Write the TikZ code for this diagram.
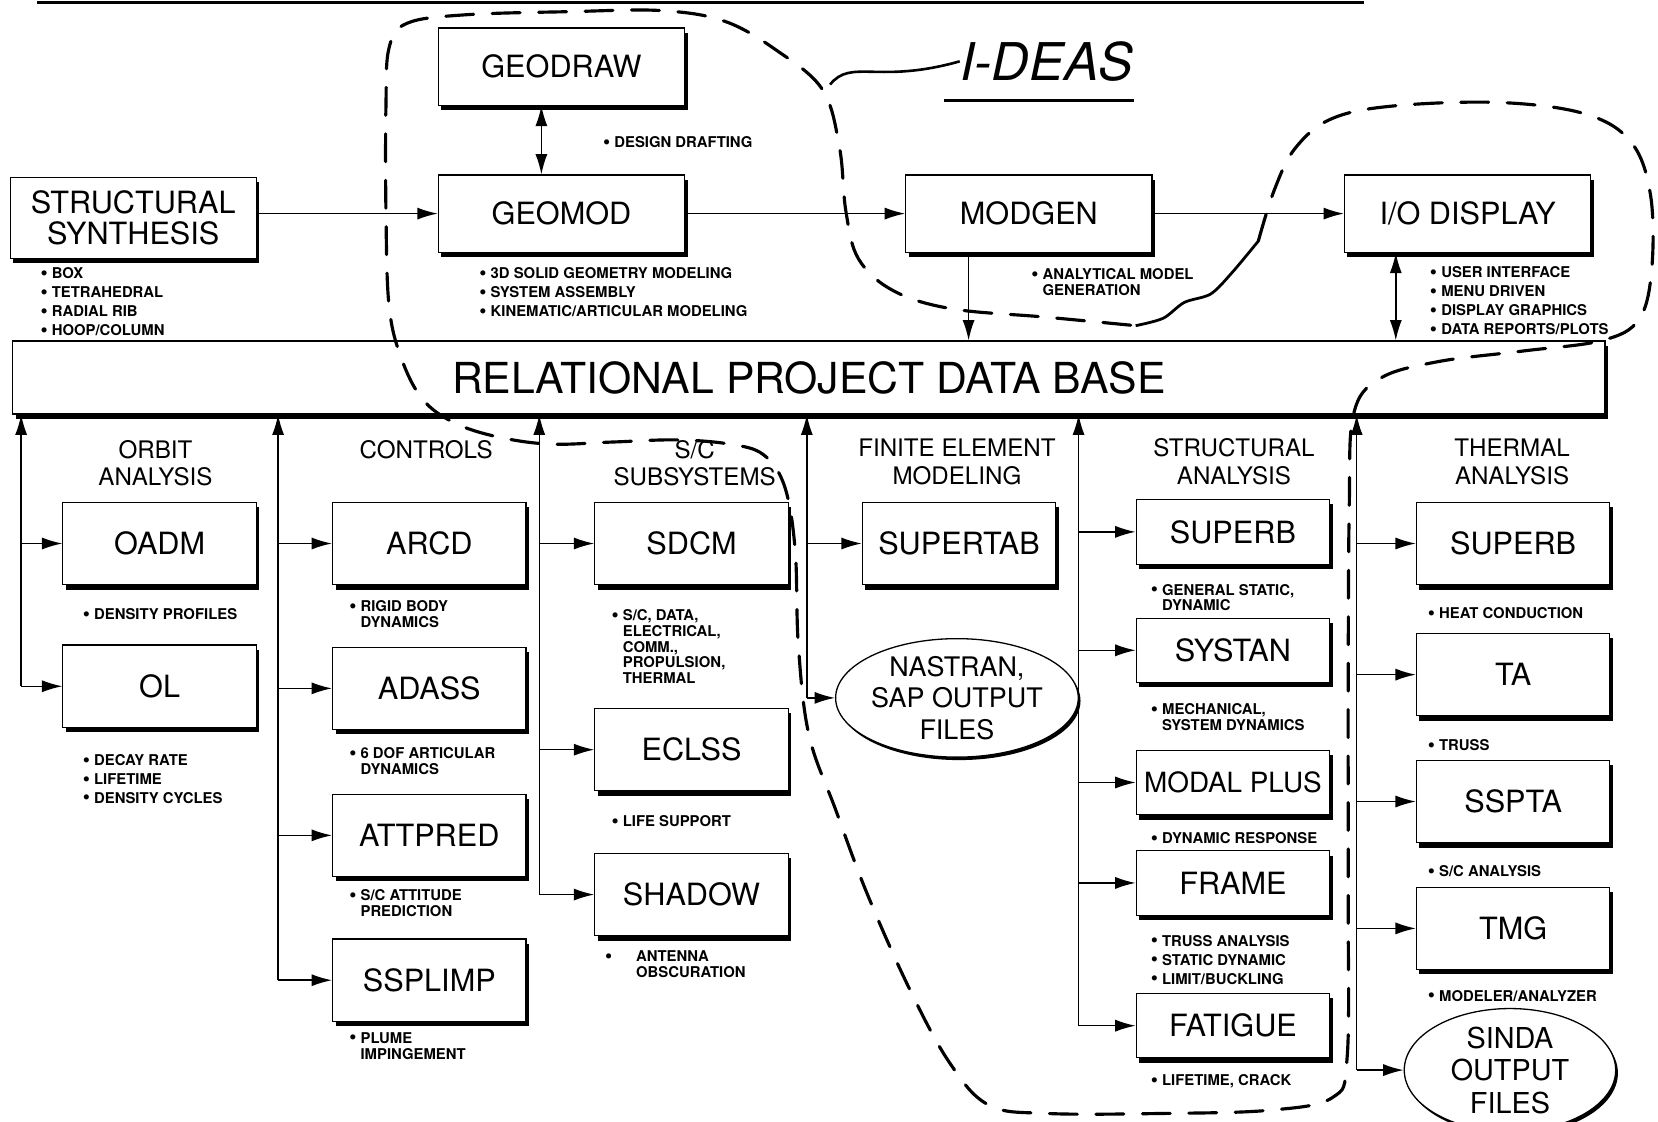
\documentclass[tikz,border=0pt]{standalone}
\usepackage{fontspec}
\setmainfont{TeX Gyre Heros}
\usetikzlibrary{positioning}
\usetikzlibrary{arrows.meta}
\usetikzlibrary{shapes.geometric}
\usetikzlibrary{shadows}
\newcommand{\dotmark}{\raisebox{-0.4pt}{\fontsize{11}{8}\selectfont\textbullet}}
\newcommand{\itm}{\dotmark\ }
\newcommand{\ind}{\phantom{\dotmark\ }}

\begin{document}
\begin{tikzpicture}[
    x=0.02cm, y=-0.02cm,
    box/.style={draw, fill=white, line width=0.6pt, minimum width=3.66cm, minimum height=1.56cm,
        inner sep=0pt, align=center, font=\fontsize{16.5}{17}\selectfont,
        drop shadow={shadow xshift=1.6pt, shadow yshift=-2.6pt, fill=black, opacity=1}},
    widebox/.style={box, minimum width=4.66cm, minimum height=1.46cm},
    flatbox/.style={box, minimum height=1.22cm},
    outfile/.style={ellipse, draw, fill=white, line width=0.7pt, inner sep=0pt,
        minimum width=3.9cm, minimum height=1.9cm, align=center, font=\fontsize{14.5}{17}\selectfont,
        drop shadow={shadow xshift=1.2pt, shadow yshift=-1.6pt, fill=black, opacity=1}},
    head/.style={align=center, font=\fontsize{13}{15}\selectfont},
    note/.style={anchor=north west, align=left, inner sep=0pt, font=\fontsize{8}{8.5}\selectfont\bfseries},
    notes/.style={note, font=\fontsize{8}{10.2}\selectfont\bfseries},
    link/.style={->, line width=0.8pt},
    boundary/.style={line width=1.7pt, dash pattern=on 15pt off 10pt, line cap=round},
    >={Latex[length=11pt,width=6.5pt]}
]
    \useasboundingbox (0,0) rectangle (1568,1061);
    \clip (0,0) rectangle (1568,1061);

    \draw[line width=1.5pt] (35,2) -- (1290,2);

    % top row
    \node[widebox] (geodraw) at (531,63) {GEODRAW};
    \node[widebox] (geomod) at (531,202) {GEOMOD};
    \node[widebox, minimum height=1.54cm] (synth) at (126,206) {STRUCTURAL\\SYNTHESIS};
    \node[widebox] (modgen) at (973,202) {MODGEN};
    \node[widebox] (iodisp) at (1388,202) {I/O DISPLAY};

    \node[note] (n-geodraw) at (570,129) {\itm DESIGN DRAFTING};
    \node[notes] (n-synth) at (38,253) {\itm BOX\\\itm TETRAHEDRAL\\\itm RADIAL RIB\\\itm HOOP/COLUMN};
    \node[notes] (n-geomod) at (453,253) {\itm 3D SOLID GEOMETRY MODELING\\\itm SYSTEM ASSEMBLY\\\itm KINEMATIC/ARTICULAR MODELING};
    \node[note] (n-modgen) at (975,254) {\itm ANALYTICAL MODEL\\\ind GENERATION};
    \node[notes] (n-iodisp) at (1352,252) {\itm USER INTERFACE\\\itm MENU DRIVEN\\\itm DISPLAY GRAPHICS\\\itm DATA REPORTS/PLOTS};

    % data base
    \node[box, minimum width=30.12cm, minimum height=1.38cm, font=\fontsize{23}{24}\selectfont] (db) at (765,357) {RELATIONAL PROJECT DATA BASE};

    \draw[link] (synth.east |- geomod) -- (geomod.west);
    \draw[<->, line width=0.8pt] ([xshift=-0.38cm]geodraw.south) -- ([xshift=-0.38cm]geomod.north);
    \draw[link] (geomod) -- (modgen);
    \draw[link] (modgen) -- (iodisp);
    \coordinate (m) at ([xshift=-1.14cm]modgen.south);
    \draw[link] (m) -- (m |- db.north);
    \coordinate (io) at ([xshift=-1.36cm]iodisp.south);
    \draw[<->, line width=0.8pt] (io) -- (io |- db.north);

    % column headings
    \node[head] (h-orbit) at (147,438) {ORBIT\\ANALYSIS};
    \node[head] (h-ctrl) at (403,425) {CONTROLS};
    \node[head] (h-sub) at (657,438) {S/C\\SUBSYSTEMS};
    \node[head] (h-fem) at (905,437) {FINITE ELEMENT\\MODELING};
    \node[head] (h-str) at (1167,437) {STRUCTURAL\\ANALYSIS};
    \node[head] (h-thm) at (1430,437) {THERMAL\\ANALYSIS};

    % orbit
    \node[box] (oadm) at (151,514) {OADM};
    \node[box] (ol) at (151,649) {OL};
    \node[note] (n-oadm) at (78,575) {\itm DENSITY PROFILES};
    \node[notes] (n-ol) at (78,713) {\itm DECAY RATE\\\itm LIFETIME\\\itm DENSITY CYCLES};

    % controls
    \node[box] (arcd) at (406,514) {ARCD};
    \node[box] (adass) at (406,651) {ADASS};
    \node[box] (attpred) at (406,790) {ATTPRED};
    \node[box] (ssplimp) at (406,927) {SSPLIMP};
    \node[note] (n-arcd) at (330,568) {\itm RIGID BODY\\\ind DYNAMICS};
    \node[note] (n-adass) at (330,707) {\itm 6 DOF ARTICULAR\\\ind DYNAMICS};
    \node[note] (n-attpred) at (330,841) {\itm S/C ATTITUDE\\\ind PREDICTION};
    \node[note] (n-ssplimp) at (330,976) {\itm PLUME\\\ind IMPINGEMENT};

    % subsystems
    \node[box] (sdcm) at (654,514) {SDCM};
    \node[box] (eclss) at (654,709) {ECLSS};
    \node[box] (shadowbox) at (654,846) {SHADOW};
    \node[note] (n-sdcm) at (578,576) {\itm S/C, DATA,\\\ind ELECTRICAL,\\\ind COMM.,\\\ind PROPULSION,\\\ind THERMAL};
    \node[note] (n-eclss) at (578,771) {\itm LIFE SUPPORT};
    \node[note] (n-shadow) at (572,899) {\dotmark\hspace{0.45cm}ANTENNA\\\phantom{\dotmark}\hspace{0.45cm}OBSCURATION};

    % finite element
    \node[box] (supertab) at (907,514) {SUPERTAB};
    \node[outfile] (nastran) at (905,660) {NASTRAN,\\SAP OUTPUT\\FILES};

    % structural
    \node[flatbox] (superb) at (1166,503) {SUPERB};
    \node[flatbox] (systan) at (1166,615) {SYSTAN};
    \node[flatbox, font=\fontsize{15}{16}\selectfont] (modal) at (1166,740) {MODAL PLUS};
    \node[flatbox] (frame) at (1166,835) {FRAME};
    \node[flatbox] (fatigue) at (1166,970) {FATIGUE};
    \node[note] (n-superb) at (1088,552) {\itm GENERAL STATIC,\\\ind DYNAMIC};
    \node[note] (n-systan) at (1088,665) {\itm MECHANICAL,\\\ind SYSTEM DYNAMICS};
    \node[note] (n-modal) at (1088,787) {\itm DYNAMIC RESPONSE};
    \node[notes] (n-frame) at (1088,884) {\itm TRUSS ANALYSIS\\\itm STATIC DYNAMIC\\\itm LIMIT/BUCKLING};
    \node[note] (n-fatigue) at (1088,1016) {\itm LIFETIME, CRACK};

    % thermal
    \node[box] (superbt) at (1431,514) {SUPERB};
    \node[box] (ta) at (1431,638) {TA};
    \node[box] (sspta) at (1431,758) {SSPTA};
    \node[box] (tmg) at (1431,878) {TMG};
    \node[outfile, minimum width=4cm, minimum height=2.1cm, font=\fontsize{15.5}{17.5}\selectfont] (sinda) at (1428,1012) {SINDA\\OUTPUT\\FILES};
    \node[note] (n-superbt) at (1350,574) {\itm HEAT CONDUCTION};
    \node[note] (n-ta) at (1350,699) {\itm TRUSS};
    \node[note] (n-sspta) at (1350,818) {\itm S/C ANALYSIS};
    \node[note] (n-tmg) at (1350,936) {\itm MODELER/ANALYZER};

    % column feeds
    \coordinate (c1) at (20,649);
    \coordinate (c2) at (263,927);
    \coordinate (c3) at (510,846);
    \coordinate (c4) at (763,660);
    \coordinate (c5) at (1020,970);
    \coordinate (c6) at (1283,1012);
    \draw[link] (c1) -- (c1 |- db.south);
    \draw[link] (c2) -- (c2 |- db.south);
    \draw[link] (c3) -- (c3 |- db.south);
    \draw[link] (c4) -- (c4 |- db.south);
    \draw[link] (c5) -- (c5 |- db.south);
    \draw[link] (c6) -- (c6 |- db.south);

    \draw[link] (c1 |- oadm) -- (oadm.west);
    \draw[link] (c1 |- ol) -- (ol.west);
    \draw[link] (c2 |- arcd) -- (arcd.west);
    \draw[link] (c2 |- adass) -- (adass.west);
    \draw[link] (c2 |- attpred) -- (attpred.west);
    \draw[link] (c2 |- ssplimp) -- (ssplimp.west);
    \draw[link] (c3 |- sdcm) -- (sdcm.west);
    \draw[link] (c3 |- eclss) -- (eclss.west);
    \draw[link] (c3 |- shadowbox) -- (shadowbox.west);
    \draw[link] (c4 |- supertab) -- (supertab.west);
    \draw[link] (c4 |- nastran) -- (nastran.west);
    \draw[link] (c5 |- superb) -- (superb.west);
    \draw[link] (c5 |- systan) -- (systan.west);
    \draw[link] (c5 |- modal) -- (modal.west);
    \draw[link] (c5 |- frame) -- (frame.west);
    \draw[link] (c5 |- fatigue) -- (fatigue.west);
    \draw[link] (c6 |- superbt) -- (superbt.west);
    \draw[link] (c6 |- ta) -- (ta.west);
    \draw[link] (c6 |- sspta) -- (sspta.west);
    \draw[link] (c6 |- tmg) -- (tmg.west);
    \draw[link] (c6 |- sinda) -- (sinda.west);

    % I-DEAS boundary
    \draw[boundary] plot[smooth, tension=0.6] coordinates {
        (1190,228) (1205,180) (1225,140) (1260,112) (1320,100) (1420,97) (1500,108)
        (1543,135) (1561,185) (1562,255) (1550,302) (1515,322) (1440,332) (1360,342)
        (1305,358) (1280,392) (1276,480) (1275,650) (1275,850) (1274,1000) (1260,1038)
        (1200,1050) (1100,1053) (990,1053) (935,1045) (898,1005) (860,935) (820,845)
        (790,765) (765,695) (755,610) (752,520) (742,460) (722,430) (690,420) (640,416)
        (580,418) (520,420) (470,413) (430,400) (400,378) (380,340) (368,290) (365,200)
        (365,100) (368,45) (385,22) (440,14) (540,11) (625,10) (685,20) (735,48) (778,85)
        (794,140) (800,200) (812,245) (845,275) (900,292) (990,300) (1074,308)};
    \draw[line width=1.5pt] plot[smooth] coordinates {(1074,308) (1100,301) (1120,286) (1145,278) (1165,258) (1190,228)};

    \node[inner sep=0pt, font=\fontsize{28}{28}\selectfont\itshape] (ideas) at (990,58) {I-DEAS};
    \draw[line width=1.3pt] ([xshift=-0.3cm, yshift=-0.36cm]ideas.south west) -- ([yshift=-0.36cm]ideas.south east);
    \coordinate (tag) at (785,80);
    \draw[line width=1.4pt] (tag) .. controls (805,55) and (830,80) .. (ideas.west);
\end{tikzpicture}
\end{document}
